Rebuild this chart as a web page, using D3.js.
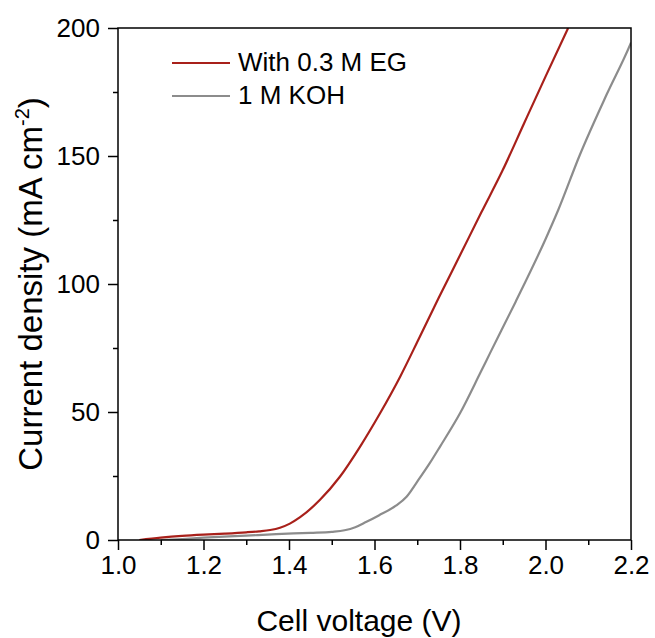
<!DOCTYPE html>
<html>
<head>
<meta charset="utf-8">
<script src="https://cdn.jsdelivr.net/npm/d3@7/dist/d3.min.js"></script>
<style>
  html, body { margin: 0; padding: 0; background: #fff; }
  svg { display: block; font-family: Arial, "Liberation Sans", sans-serif; }
</style>
</head>
<body>
<svg id="chart" width="655" height="638"></svg>
<script>
// Polarization curves: cell voltage (V) vs current density (mA cm^-2)
const egVoltage = [1.05, 1.10, 1.15, 1.20, 1.25, 1.30, 1.33, 1.356, 1.379, 1.402, 1.426, 1.472, 1.519, 1.566, 1.613, 1.660, 1.706, 1.75, 1.80, 1.85, 1.90, 1.95, 2.00, 2.053];
const egCurrent = [0.0, 0.9, 1.6, 2.1, 2.5, 3.0, 3.4, 3.9, 4.8, 6.4, 8.9, 15.6, 24.7, 36.4, 49.5, 63.8, 79.4, 94.5, 111.2, 128.0, 144.5, 162.8, 181.0, 200.0];

const kohVoltage = [1.10, 1.15, 1.20, 1.30, 1.37, 1.45, 1.50, 1.53, 1.555, 1.58, 1.61, 1.65, 1.675, 1.70, 1.73, 1.753, 1.80, 1.847, 1.87, 1.93, 2.00, 2.03, 2.08, 2.143, 2.198, 2.20];
const kohCurrent = [0.0, 0.4, 0.9, 1.7, 2.3, 2.8, 3.2, 3.8, 5.0, 7.0, 9.6, 13.4, 16.9, 22.8, 30.2, 36.4, 49.5, 65.1, 72.9, 93.0, 117.5, 129.0, 150.3, 174.0, 193.5, 194.3];

const seriesNames = ["With 0.3 M EG", "1 M KOH"];
const seriesColors = ["#a8201a", "#8c8c8c"];

const xTicks = [1.0, 1.2, 1.4, 1.6, 1.8, 2.0, 2.2];
const xMinorTicks = [1.1, 1.3, 1.5, 1.7, 1.9, 2.1];
const yTicks = [0, 50, 100, 150, 200];
const yMinorTicks = [25, 75, 125, 175];

const svg = d3.select("#chart");
const plotLeft = 118, plotRight = 631, plotTop = 28, plotBottom = 540;

const x = d3.scaleLinear().domain([1.0, 2.2]).range([plotLeft, plotRight]);
const y = d3.scaleLinear().domain([0, 200]).range([plotBottom, plotTop]);

const series = [
  { name: seriesNames[0], color: seriesColors[0], pts: egVoltage.map((v, i) => [v, egCurrent[i]]) },
  { name: seriesNames[1], color: seriesColors[1], pts: kohVoltage.map((v, i) => [v, kohCurrent[i]]) }
];

svg.append("defs").append("clipPath").attr("id", "plotClip")
  .append("rect").attr("x", plotLeft).attr("y", plotTop)
  .attr("width", plotRight - plotLeft).attr("height", plotBottom - plotTop);

const line = d3.line().x(d => x(d[0])).y(d => y(d[1])).curve(d3.curveMonotoneX);

// Draw grey first so the red curve sits on top
svg.append("g").attr("clip-path", "url(#plotClip)")
  .selectAll("path").data(series.slice().reverse()).join("path")
  .attr("d", d => line(d.pts))
  .attr("fill", "none")
  .attr("stroke", d => d.color)
  .attr("stroke-width", 2.2)
  .attr("stroke-linejoin", "round");

// Frame
svg.append("rect").attr("x", plotLeft).attr("y", plotTop)
  .attr("width", plotRight - plotLeft).attr("height", plotBottom - plotTop)
  .attr("fill", "none").attr("stroke", "#000").attr("stroke-width", 1.5);

// X axis
svg.append("g").attr("transform", `translate(0,${plotBottom})`)
  .call(d3.axisBottom(x).tickValues(xTicks).tickSize(10).tickPadding(6).tickFormat(d3.format(".1f")));
svg.append("g").attr("transform", `translate(0,${plotBottom})`)
  .call(d3.axisBottom(x).tickValues(xMinorTicks).tickSize(5).tickFormat(""));

// Y axis
svg.append("g").attr("transform", `translate(${plotLeft},0)`)
  .call(d3.axisLeft(y).tickValues(yTicks).tickSize(10).tickPadding(8).tickFormat(d3.format("d")));
svg.append("g").attr("transform", `translate(${plotLeft},0)`)
  .call(d3.axisLeft(y).tickValues(yMinorTicks).tickSize(5).tickFormat(""));

svg.selectAll(".domain").remove();
svg.selectAll(".tick line").attr("stroke", "#000").attr("stroke-width", 1.5);
svg.selectAll(".tick text").attr("font-size", 26).attr("fill", "#000")
  .attr("font-family", "Arial, 'Liberation Sans', sans-serif");

// Axis titles
svg.append("text")
  .attr("x", 359).attr("y", 631)
  .attr("text-anchor", "middle")
  .attr("font-size", 30)
  .text("Cell voltage (V)");

const yTitle = svg.append("text")
  .attr("transform", `translate(42,284) rotate(-90)`)
  .attr("text-anchor", "middle")
  .attr("font-size", 33);
yTitle.append("tspan").text("Current density (mA cm");
yTitle.append("tspan").attr("font-size", 20).attr("dy", -13).text("-2");
yTitle.append("tspan").attr("dy", 13).text(")");

// Legend
const legend = svg.append("g");
series.forEach((s, i) => {
  const ly = 63 + i * 33;
  legend.append("line")
    .attr("x1", 172).attr("x2", 230).attr("y1", ly).attr("y2", ly)
    .attr("stroke", s.color).attr("stroke-width", 2.2);
  legend.append("text")
    .attr("x", 238).attr("y", ly + 8)
    .attr("font-size", 26)
    .text(s.name);
});
</script>
</body>
</html>
